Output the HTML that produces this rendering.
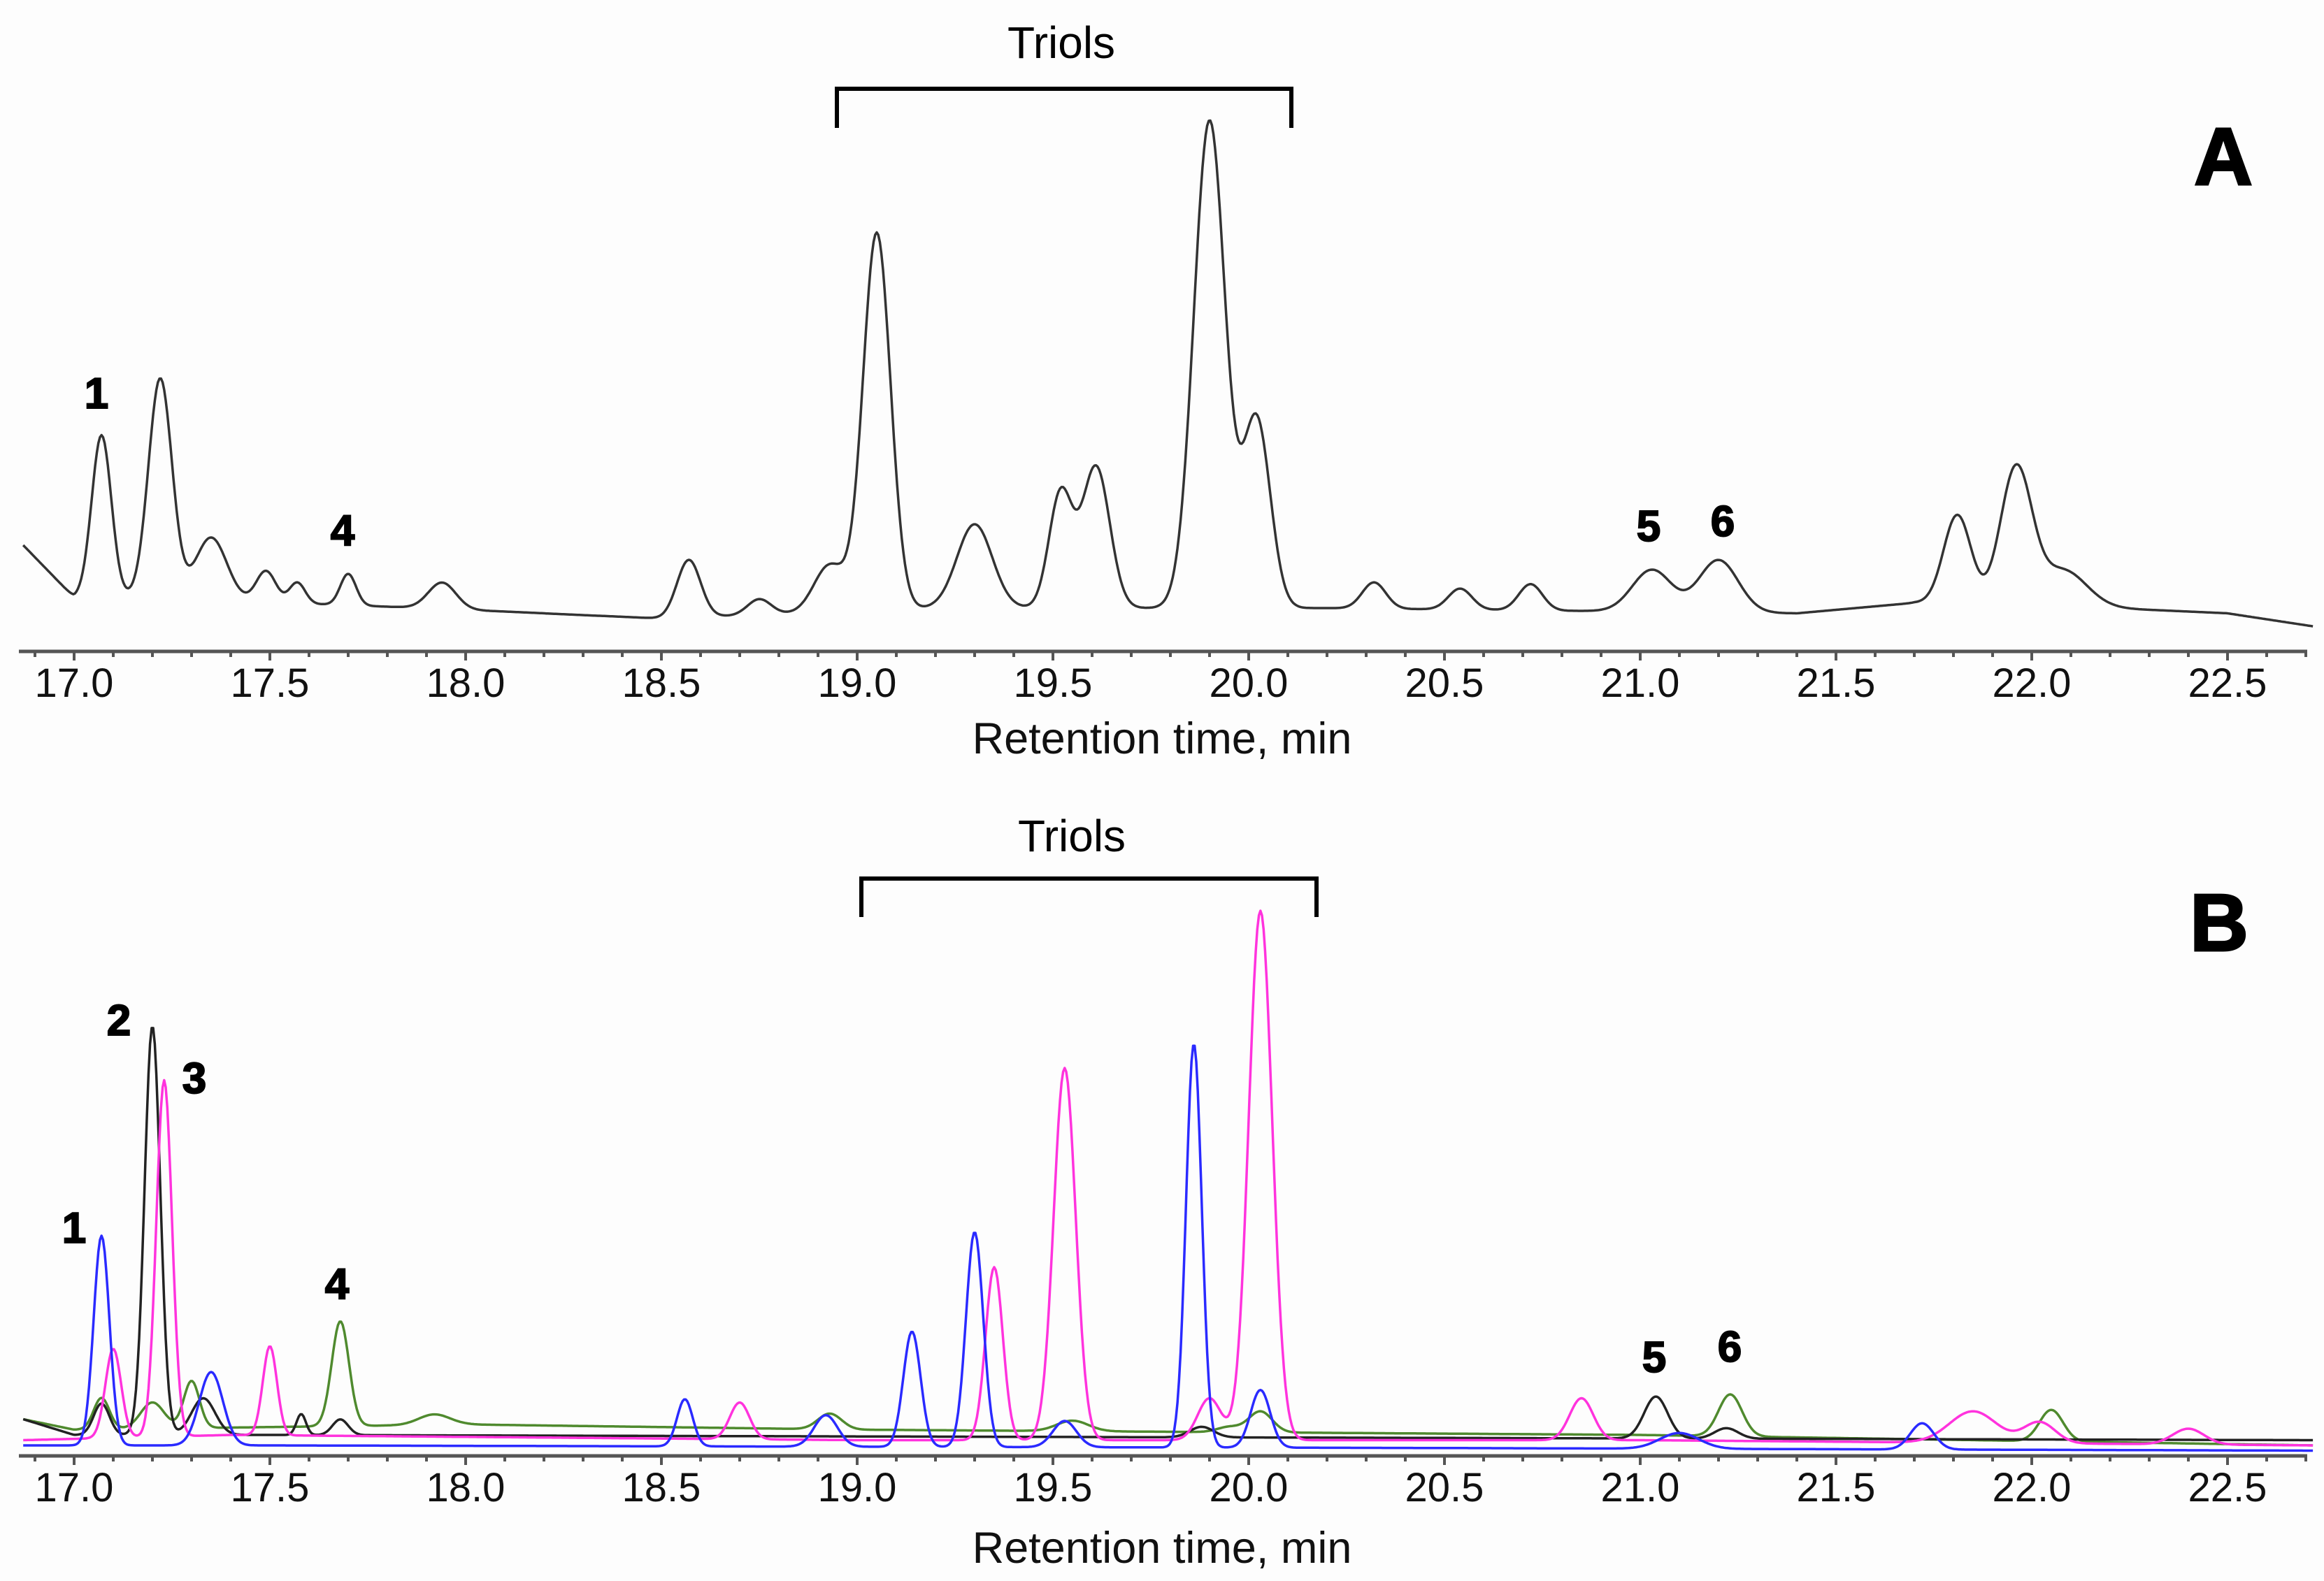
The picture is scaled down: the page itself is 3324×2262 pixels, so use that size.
<!DOCTYPE html>
<html><head><meta charset="utf-8"><style>
html,body{margin:0;padding:0;background:#fdfdfd;}
svg{display:block;font-family:"Liberation Sans",Arial,sans-serif;}
</style></head><body>
<svg id="chart" width="3324" height="2262" viewBox="0 0 3324 2262" xmlns="http://www.w3.org/2000/svg">
<rect width="3324" height="2262" fill="#fdfdfd"/>
<g id="panelA"></g>
<g id="panelB"></g>
</svg>
<script>
// ---- axis data ----
const tickLabels = ["17.0","17.5","18.0","18.5","19.0","19.5","20.0","20.5","21.0","21.5","22.0","22.5"];
const tMin = 16.87, tMax = 22.72;
// ---- Panel A: peaks [time, height, sigma] ----
const aPeakTimes   = [17.07,17.22,17.35,17.49,17.57,17.70,17.94,18.57,18.75,18.93,19.05,19.30,19.52,19.61,19.90,20.02,20.32,20.54,20.72,21.03,21.20,21.81,21.96,22.08];
const aPeakHeights = [31,   42,   12,   6,    4,    6,    5,    11,   3,    9,    72,   16,   22,   27,   93,   36,   5,    4,    5,    8,    10,   17,   26,   7];
const aPeakSigmas  = [0.025,0.03, 0.04, 0.025,0.02, 0.02, 0.035,0.03, 0.03, 0.04, 0.035,0.045,0.03, 0.035,0.04, 0.035,0.03, 0.03, 0.03, 0.05, 0.05, 0.035,0.04, 0.06];
const aBaseT = [16.87,17.0,17.15,17.9,18.5,18.85,19.2,20.2,21.4,21.7,22.2,22.5,22.72];
const aBaseV = [16,   6,   6,    4,   2,   3,    4,   4,   3,   5,   4,   3,   0.5];
// ---- Panel B series ----
const blueTimes   = [17.07,17.35,18.56,18.92,19.14,19.30,19.53,19.86,20.03,21.72,21.1];
const blueHeights = [40,   14,   9,    6,    22,   41,   5,    77,   11,   5,   3];
const blueSigmas  = [0.02, 0.03, 0.02, 0.03, 0.022,0.022,0.03, 0.02, 0.025,0.03,0.05];
const blueBaseT = [16.87,17.5,20.5,22.72]; const blueBaseV = [2,2,1.5,1];
const magTimes   = [17.10,17.23,17.50,18.70,19.35,19.53,19.90,20.03,20.85,21.85,22.02,22.4];
const magHeights = [17,   68,   17,   7,    33,   71,   8,    101,  8,    6,    4,    3];
const magSigmas  = [0.02, 0.02, 0.018,0.025,0.022,0.028,0.03, 0.03, 0.03, 0.06, 0.04, 0.04];
const magBaseT = [16.87,17.4,19.0,21.0,22.72]; const magBaseV = [3,4,3,3,2];
const blackTimes   = [17.07,17.20,17.33,17.58,17.68,19.88,21.04,21.22];
const blackHeights = [6,    78,   7,    4,    3,    2,    8,    2];
const blackSigmas  = [0.02, 0.02, 0.03, 0.012,0.02, 0.03, 0.03, 0.03];
const blackBaseT = [16.87,17.0,17.5,22.72]; const blackBaseV = [7,4,4,3];
const greenTimes   = [17.07,17.20,17.30,17.68,17.92,18.93,19.55,19.95,20.03,21.23,22.05];
const greenHeights = [6,    5,    9,    20,   2,    3,    2,    1,    4,    8,    6];
const greenSigmas  = [0.02, 0.03, 0.02, 0.022,0.04, 0.03, 0.04, 0.03, 0.03, 0.03, 0.03];
const greenBaseT = [16.87,17.0,18.0,19.0,21.0,22.72]; const greenBaseV = [7,5,6,5,4,2];

const NS = "http://www.w3.org/2000/svg";
const X0 = 106, PXPERMIN = 560;
function xs(t){ return X0 + (t-17)*PXPERMIN; }
function interp(T,V,t){
  if(t<=T[0]) return V[0];
  for(let i=1;i<T.length;i++){ if(t<=T[i]){ const f=(t-T[i-1])/(T[i]-T[i-1]); return V[i-1]+f*(V[i]-V[i-1]); } }
  return V[V.length-1];
}
function signal(t,times,heights,sigmas,bT,bV){
  let v = interp(bT,bV,t);
  for(let i=0;i<times.length;i++){ const d=(t-times[i])/sigmas[i]; v += heights[i]*Math.exp(-0.5*d*d); }
  return v;
}
function el(tag,attrs,parent){ const e=document.createElementNS(NS,tag); for(const k in attrs) e.setAttribute(k,attrs[k]); parent.appendChild(e); return e; }

function drawAxis(g, axisY, labelY, titleY){
  const ax = el("line",{x1:27,x2:3300,y1:axisY,y2:axisY,stroke:"#555","stroke-width":5},g);
  
  
  for(let k=0;k<=58;k++){
    const t = 16.9 + k*0.1;
    if(t>tMax+0.001) break;
    const major = Math.abs((t*2)-Math.round(t*2))<0.01;
    const tk = el("line",{x1:xs(t),x2:xs(t),y1:axisY,y2:axisY+(major?13:8),stroke:"#555","stroke-width":4},g);
    
    
  }
  tickLabels.forEach(lbl=>{
    const tx = el("text",{x:xs(parseFloat(lbl)),y:labelY,"font-size":58,"text-anchor":"middle",fill:"#111"},g);
    tx.textContent = lbl;
    
    
  });
  const tt = el("text",{x:1662,y:titleY,"font-size":63,"text-anchor":"middle",fill:"#111"},g);
  tt.textContent = "Retention time, min";
  
  
}
function drawTrace(g, baseY, times, heights, sigmas, bT, bV, color, w, name){
  let d="";
  for(let t=tMin; t<=tMax; t+=0.004){
    const v = signal(t,times,heights,sigmas,bT,bV);
    d += (d?"L":"M") + xs(t).toFixed(1) + "," + (baseY - v*7.5).toFixed(1);
  }
  const p = el("path",{d:d,fill:"none",stroke:color,"stroke-width":w,"stroke-linejoin":"round"},g);
  
  
}
function bracket(g,x1,x2,yTop,yBot,tx,ty){
  const p = el("path",{d:`M${x1},${yBot}L${x1},${yTop}L${x2},${yTop}L${x2},${yBot}`,fill:"none",stroke:"#000","stroke-width":6},g);
  
  
  const t = el("text",{x:tx,y:ty,"font-size":64,"text-anchor":"middle",fill:"#000"},g);
  t.textContent="Triols";
  
  
}
function label(g,txt,x,y,size,name){
  const t = el("text",{x:x,y:y,"font-size":size,"font-weight":"bold","text-anchor":"middle",fill:"#000",stroke:"#000","stroke-width":size>80?3:2},g);
  t.textContent=txt;
  
  
}

const gA = document.getElementById("panelA");
drawTrace(gA, 900, aPeakTimes, aPeakHeights, aPeakSigmas, aBaseT, aBaseV, "#333", 3.5, "trace-a");
drawAxis(gA, 932, 997, 1078);
bracket(gA, 1197, 1847, 127, 183, 1518, 83);
label(gA,"A",3180,264,116,"panel-label-a");
label(gA,"1",138,584,62,"peak-label-1");
label(gA,"4",490,780,62,"peak-label-4");
label(gA,"5",2358,774,62,"peak-label-5");
label(gA,"6",2464,767,62,"peak-label-6");

const gB = document.getElementById("panelB");
drawTrace(gB, 2083, greenTimes, greenHeights, greenSigmas, greenBaseT, greenBaseV, "#4f8a2e", 3.5, "trace-green");
drawTrace(gB, 2083, blackTimes, blackHeights, blackSigmas, blackBaseT, blackBaseV, "#222", 3.5, "trace-black");
drawTrace(gB, 2083, magTimes, magHeights, magSigmas, magBaseT, magBaseV, "#ff33dd", 3.5, "trace-magenta");
drawTrace(gB, 2083, blueTimes, blueHeights, blueSigmas, blueBaseT, blueBaseV, "#2a2aff", 3.5, "trace-blue");
drawAxis(gB, 2083, 2148, 2236);
bracket(gB, 1232, 1883, 1257, 1312, 1533, 1218);
label(gB,"B",3174,1360,116,"panel-label-b");
label(gB,"1",106,1778,62,"peak-label-1");
label(gB,"2",170,1481,62,"peak-label-2");
label(gB,"3",278,1564,62,"peak-label-3");
label(gB,"4",482,1858,62,"peak-label-4");
label(gB,"5",2366,1963,62,"peak-label-5");
label(gB,"6",2474,1948,62,"peak-label-6");
</script>
</body></html>
